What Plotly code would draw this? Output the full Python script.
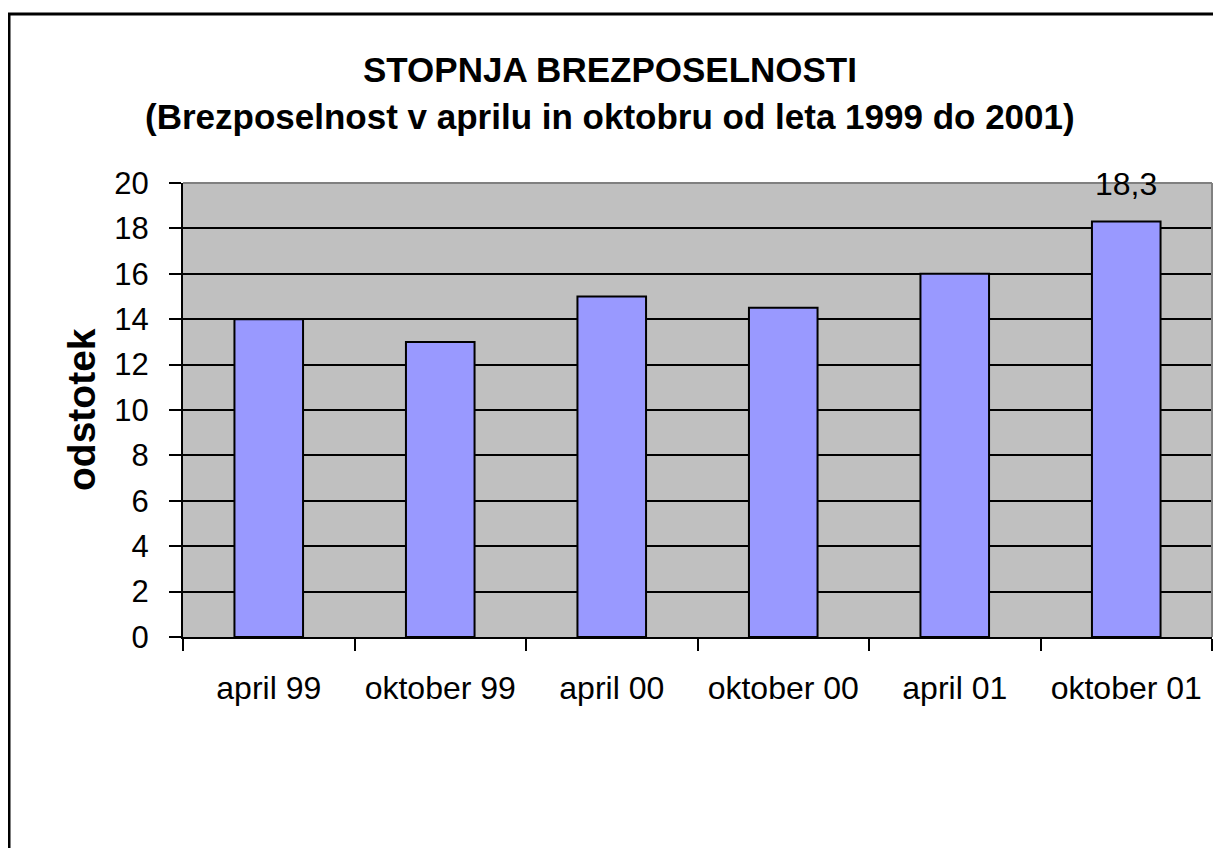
import plotly.graph_objects as go

categories = ["april 99", "oktober 99", "april 00", "oktober 00", "april 01", "oktober 01"]
unemployment = [14.0, 13.0, 15.0, 14.5, 16.0, 18.3]
y_ticks = list(range(0, 21, 2))

title_line1 = "STOPNJA BREZPOSELNOSTI"
title_line2 = "(Brezposelnost v aprilu in oktobru od leta 1999 do 2001)"
y_title = "odstotek"

FONT = "Liberation Sans, Arial, sans-serif"

# the html body has an 8px margin, so the figure sits at (8, 8) in the window
OFF = 8
W, H = 1221 - OFF, 848 - OFF
L, R, T, B = 183 - OFF, 9, 183 - OFF, 211
PW, PH = W - L - R, H - T - B


def px_x(x):
    # window pixel -> paper fraction
    return (x - OFF - L) / PW


def px_y(y):
    return (H - B - (y - OFF)) / PH


fig = go.Figure()
fig.add_trace(
    go.Bar(
        x=categories,
        y=unemployment,
        marker={"color": "#9999FF", "line": {"color": "black", "width": 2}},
        hoverinfo="x+y",
    )
)

# data label only on the last bar, as in the source
fig.add_annotation(
    x=categories[-1],
    y=unemployment[-1],
    text=f"{unemployment[-1]:.1f}".replace(".", ","),
    showarrow=False,
    yanchor="bottom",
    yshift=18,
    font={"family": FONT, "size": 32, "color": "black"},
)

fig.add_annotation(
    x=px_x(610), y=px_y(70), xref="paper", yref="paper",
    text=f"<b>{title_line1}</b>", showarrow=False,
    xanchor="center", yanchor="middle",
    font={"family": FONT, "size": 35, "color": "black"},
)
fig.add_annotation(
    x=px_x(610), y=px_y(117), xref="paper", yref="paper",
    text=f"<b>{title_line2}</b>", showarrow=False,
    xanchor="center", yanchor="middle",
    font={"family": FONT, "size": 35, "color": "black"},
)
fig.add_annotation(
    x=px_x(81), y=0.5, xref="paper", yref="paper",
    text=f"<b>{y_title}</b>", showarrow=False, textangle=-90,
    xanchor="center", yanchor="middle",
    font={"family": FONT, "size": 39, "color": "black"},
)

# gray frame on top/right of the plot area
fig.add_shape(type="line", xref="paper", yref="paper", x0=0, x1=1, y0=1, y1=1,
              line={"color": "#808080", "width": 2})
fig.add_shape(type="line", xref="paper", yref="paper", x0=1, x1=1, y0=0, y1=1,
              line={"color": "#808080", "width": 2})
# outer chart border (runs off the right/bottom of the window)
fig.add_shape(type="rect", xref="paper", yref="paper",
              x0=px_x(9), x1=px_x(1260), y0=px_y(900), y1=px_y(14),
              line={"color": "black", "width": 3})

fig.update_layout(
    width=W,
    height=H,
    margin={"l": L, "r": R, "t": T, "b": B, "pad": 0},
    paper_bgcolor="white",
    plot_bgcolor="#C0C0C0",
    bargap=0.6,
    showlegend=False,
    font={"family": FONT, "color": "black"},
    xaxis={
        "type": "category",
        "tickson": "boundaries",
        "ticks": "outside",
        "ticklen": 12,
        "tickwidth": 1.5,
        "tickcolor": "black",
        "showline": True,
        "linecolor": "black",
        "linewidth": 2,
        "showgrid": False,
        "ticklabelstandoff": 22,
        "tickfont": {"family": FONT, "size": 32, "color": "black"},
    },
    yaxis={
        "range": [0, 20],
        "tickvals": y_ticks,
        "ticks": "outside",
        "ticklen": 12,
        "tickwidth": 1.5,
        "tickcolor": "black",
        "showline": True,
        "linecolor": "black",
        "linewidth": 2,
        "showgrid": True,
        "gridcolor": "black",
        "gridwidth": 1.5,
        "zeroline": False,
        "ticklabelstandoff": 14,
        "tickfont": {"family": FONT, "size": 31, "color": "black"},
    },
)

fig.write_html("out.html")
